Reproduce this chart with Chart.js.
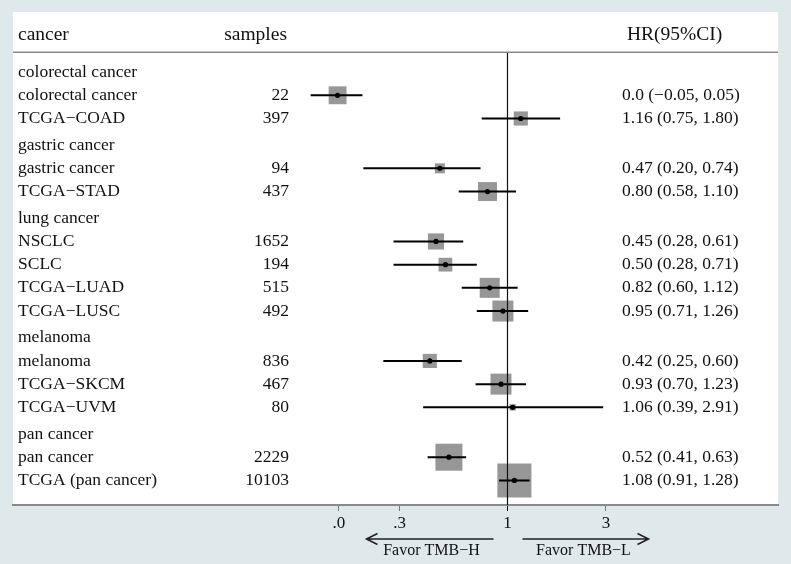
<!DOCTYPE html>
<html>
<head>
<meta charset="utf-8">
<script src="https://cdn.jsdelivr.net/npm/chart.js@4.4.1/dist/chart.umd.min.js"></script>
<style>
  html, body { margin: 0; padding: 0; background: #dfe9ec; }
  #wrap { width: 791px; height: 564px; }
</style>
</head>
<body>
<div id="wrap"><canvas id="forest" width="791" height="564"></canvas></div>
<script>
// rows, top to bottom
const rowLabels = ['colorectal cancer', 'colorectal cancer', 'TCGA−COAD',
  'gastric cancer', 'gastric cancer', 'TCGA−STAD',
  'lung cancer', 'NSCLC', 'SCLC', 'TCGA−LUAD', 'TCGA−LUSC',
  'melanoma', 'melanoma', 'TCGA−SKCM', 'TCGA−UVM',
  'pan cancer', 'pan cancer', 'TCGA (pan cancer)'];
const isGroup = [true, false, false, true, false, false, true, false, false, false, false,
  true, false, false, false, true, false, false];
const samples = ['', '22', '397', '', '94', '437', '', '1652', '194', '515', '492',
  '', '836', '467', '80', '', '2229', '10103'];
const hrLabels = ['', '0.0 (−0.05, 0.05)', '1.16 (0.75, 1.80)', '', '0.47 (0.20, 0.74)', '0.80 (0.58, 1.10)',
  '', '0.45 (0.28, 0.61)', '0.50 (0.28, 0.71)', '0.82 (0.60, 1.12)', '0.95 (0.71, 1.26)',
  '', '0.42 (0.25, 0.60)', '0.93 (0.70, 1.23)', '1.06 (0.39, 2.91)',
  '', '0.52 (0.41, 0.63)', '1.08 (0.91, 1.28)'];
// plotted HR and CI (first study row sits on the ".0" tick in the original)
const hr = [null, 0.15, 1.16, null, 0.47, 0.80, null, 0.45, 0.50, 0.82, 0.95, null, 0.42, 0.93, 1.06, null, 0.52, 1.08];
const ciLow = [null, 0.111, 0.75, null, 0.20, 0.58, null, 0.28, 0.28, 0.60, 0.71, null, 0.25, 0.70, 0.39, null, 0.41, 0.91];
const ciHigh = [null, 0.198, 1.80, null, 0.74, 1.10, null, 0.61, 0.71, 1.12, 1.26, null, 0.60, 1.23, 2.91, null, 0.63, 1.28];
// relative box weights (box area)
const weights = [null, 32, 20, null, 10, 36, null, 26, 19, 40, 44, null, 20, 44, 4, null, 73, 116];

const tickValues = [0.152, 0.3, 1, 3];
const tickLabels = ['.0', '.3', '1', '3'];

const SERIF = '"Liberation Serif", "Times New Roman", serif';
Chart.defaults.font.family = SERIF;

// y position of each row: one unit per row, small extra gap before each group after the first
const rowPos = [];
let extra = 0;
rowLabels.forEach((_, i) => {
  if (isGroup[i] && i > 0) extra += 0.15;
  rowPos.push(i + extra);
});
const HEAD_POS = -1.6;
const HEAD_LINE_POS = -0.86;
const Y_MIN = -2.59;
const Y_MAX = 18.66;

const boxes = [], dots = [], ciLines = [], boxRadius = [];
rowLabels.forEach((_, i) => {
  if (hr[i] == null) return;
  boxes.push({ x: hr[i], y: rowPos[i] });
  boxRadius.push(Math.sqrt(weights[i] * 10) / Math.SQRT2);
  dots.push({ x: hr[i], y: rowPos[i] });
  ciLines.push({ x: ciLow[i], y: rowPos[i] }, { x: ciHigh[i], y: rowPos[i] }, { x: null, y: null });
});

const panelPlugin = {
  id: 'panel',
  beforeDraw(chart) {
    const { ctx, chartArea: a } = chart;
    ctx.save();
    ctx.fillStyle = '#dfe9ec';
    ctx.fillRect(0, 0, chart.width, chart.height);
    ctx.fillStyle = '#ffffff';
    ctx.fillRect(a.left, a.top, a.right - a.left, a.bottom - a.top);
    ctx.restore();
  },
  afterDraw(chart) {
    const { ctx, chartArea: a } = chart;
    const ys = chart.scales.y, xs = chart.scales.x;
    ctx.save();
    // header line
    ctx.strokeStyle = '#8a8a8a';
    ctx.lineWidth = 1.5;
    const hl = ys.getPixelForValue(HEAD_LINE_POS);
    ctx.beginPath();
    ctx.moveTo(a.left, hl);
    ctx.lineTo(a.right, hl);
    ctx.stroke();

    ctx.fillStyle = '#111';
    ctx.textBaseline = 'middle';
    ctx.font = '19.5px ' + SERIF;
    const hy = ys.getPixelForValue(HEAD_POS);
    ctx.textAlign = 'left';
    ctx.fillText('cancer', 18, hy);
    ctx.fillText('HR(95%CI)', 627, hy);
    ctx.textAlign = 'right';
    ctx.fillText('samples', 287, hy);

    ctx.font = '17.5px ' + SERIF;
    rowLabels.forEach((lab, i) => {
      const y = ys.getPixelForValue(rowPos[i]);
      ctx.textAlign = 'left';
      ctx.fillText(lab, 18, y);
      ctx.fillText(hrLabels[i], 622, y);
      ctx.textAlign = 'right';
      ctx.fillText(samples[i], 289, y);
    });

    // arrows below axis
    const x1 = xs.getPixelForValue(1);
    const ay = a.bottom + 34;
    ctx.strokeStyle = '#222';
    ctx.lineWidth = 1.6;
    const arrow = (from, to) => {
      const d = Math.sign(to - from);
      ctx.beginPath();
      ctx.moveTo(from, ay);
      ctx.lineTo(to, ay);
      ctx.moveTo(to - d * 11, ay - 5.5);
      ctx.lineTo(to, ay);
      ctx.lineTo(to - d * 11, ay + 5.5);
      ctx.stroke();
    };
    arrow(x1 - 14, x1 - 141);
    arrow(x1 + 15, x1 + 141);
    ctx.font = '16px ' + SERIF;
    ctx.textAlign = 'center';
    ctx.fillText('Favor TMB−H', x1 - 76, a.bottom + 46);
    ctx.fillText('Favor TMB−L', x1 + 76, a.bottom + 46);
    ctx.restore();
  }
};

new Chart(document.getElementById('forest'), {
  type: 'scatter',
  data: {
    datasets: [
      {
        label: 'point',
        data: dots,
        pointStyle: 'circle',
        pointRadius: 2.6,
        pointHoverRadius: 2.6,
        backgroundColor: '#000',
        borderWidth: 0
      },
      {
        label: 'null line',
        data: [{ x: 1, y: HEAD_LINE_POS }, { x: 1, y: Y_MAX }],
        showLine: true,
        borderColor: '#111',
        borderWidth: 1.2,
        pointRadius: 0
      },
      {
        label: 'CI',
        data: ciLines,
        showLine: true,
        spanGaps: false,
        borderColor: '#000',
        borderWidth: 2,
        pointRadius: 0
      },
      {
        label: 'weight',
        data: boxes,
        pointStyle: 'rect',
        pointRadius: boxRadius,
        pointHoverRadius: boxRadius,
        backgroundColor: '#979797',
        borderWidth: 0
      }
    ]
  },
  options: {
    responsive: false,
    animation: false,
    layout: { autoPadding: false, padding: { left: 13, right: 13, top: 12, bottom: 0 } },
    plugins: { legend: { display: false }, tooltip: { enabled: false } },
    scales: {
      x: {
        type: 'logarithmic',
        min: 0.004,
        max: 20.5,
        afterBuildTicks: (scale) => { scale.ticks = tickValues.map(v => ({ value: v })); },
        afterFit: (scale) => { scale.height = 59; scale.paddingLeft = 0; scale.paddingRight = 0; },
        ticks: {
          autoSkip: false,
          maxRotation: 0,
          padding: 2,
          color: '#111',
          font: { size: 17, family: SERIF },
          callback: (v, i) => tickLabels[i]
        },
        grid: {
          drawOnChartArea: false,
          drawTicks: true,
          tickLength: 6,
          tickColor: (c) => (c.tick && c.tick.value === 1 ? '#111' : '#777')
        },
        border: { color: '#8a8a8a', width: 2 }
      },
      y: {
        type: 'linear',
        display: false,
        reverse: true,
        min: Y_MIN,
        max: Y_MAX
      }
    }
  },
  plugins: [panelPlugin]
});
</script>
</body>
</html>
